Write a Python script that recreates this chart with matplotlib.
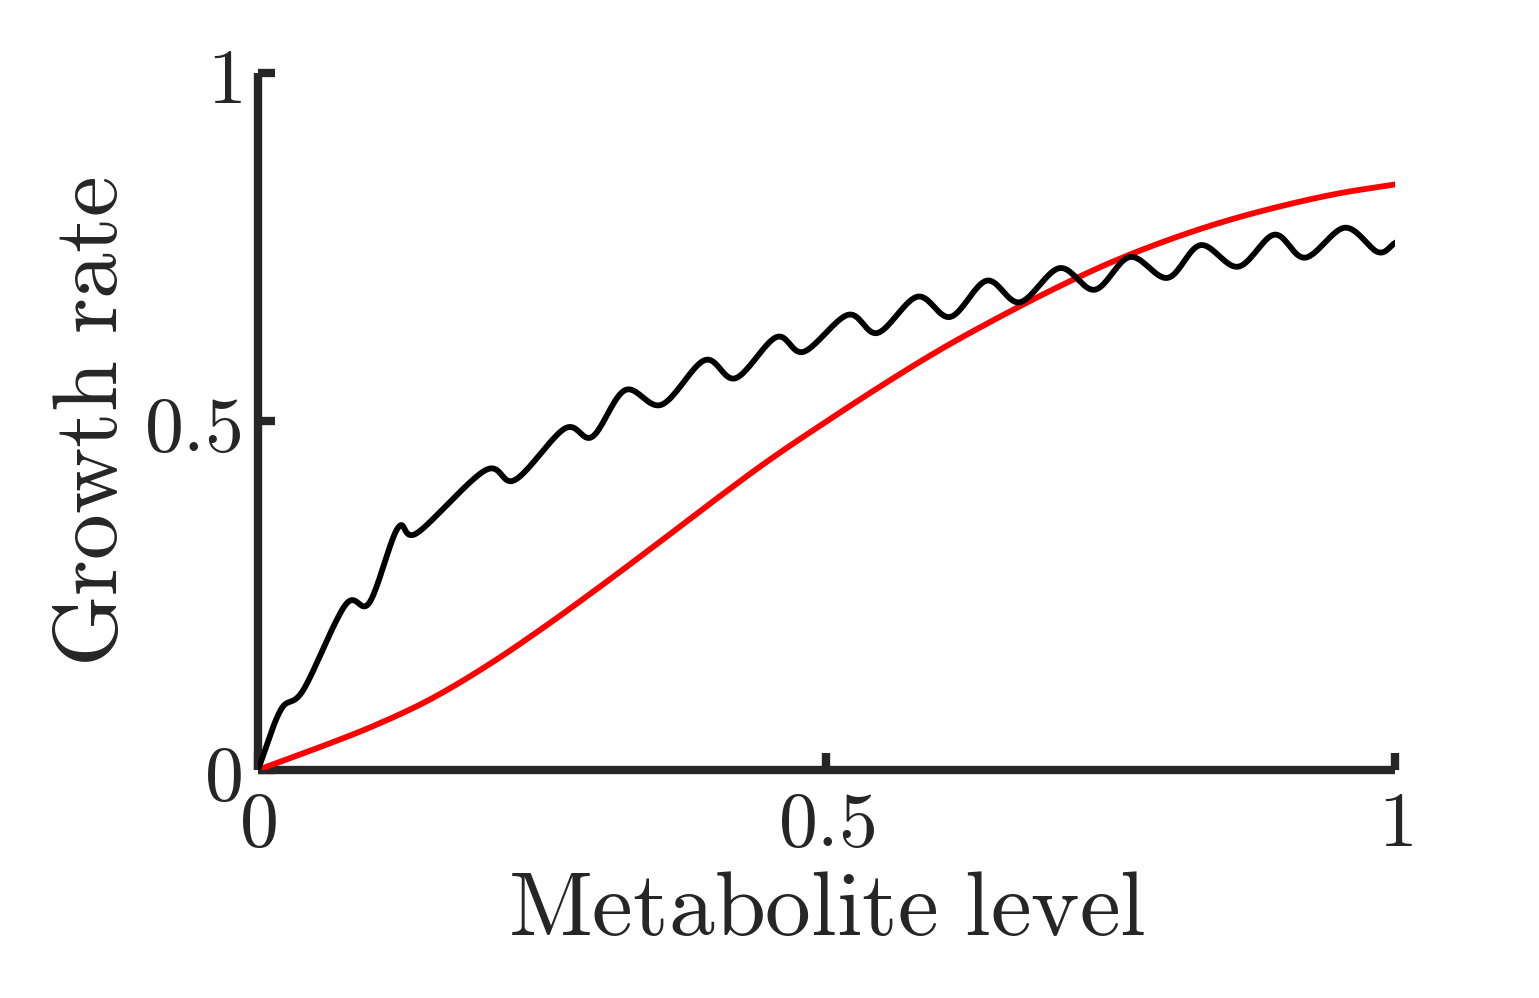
import numpy as np
import matplotlib.pyplot as plt

plt.rcParams['mathtext.fontset'] = 'cm'
plt.rcParams['font.family'] = 'serif'
plt.rcParams['font.serif'] = ['DejaVu Serif']

# red curve
red_x = [0, 0.05, 0.1, 0.15, 0.2, 0.25, 0.3, 0.35, 0.4, 0.45, 0.5,
         0.55, 0.6, 0.65, 0.7, 0.75, 0.8, 0.85, 0.9, 0.95, 1.0]
red_y = [0, 0.03, 0.062, 0.1, 0.148, 0.203, 0.262, 0.323, 0.385, 0.445, 0.5,
         0.553, 0.603, 0.648, 0.69, 0.728, 0.76, 0.787, 0.809, 0.827, 0.84]

# black wiggly curve (peaks / troughs)
blk_x = [0, 0.02, 0.04, 0.077, 0.098, 0.123, 0.14, 0.2, 0.226, 0.27, 0.294,
         0.323, 0.355, 0.393, 0.42, 0.456, 0.48, 0.519, 0.545, 0.58, 0.609,
         0.641, 0.67, 0.705, 0.736, 0.767, 0.8, 0.829, 0.862, 0.894, 0.921,
         0.956, 0.985, 1.0]
blk_y = [0, 0.086, 0.115, 0.237, 0.24, 0.347, 0.34, 0.43, 0.416, 0.49, 0.478,
         0.545, 0.524, 0.588, 0.562, 0.621, 0.6, 0.653, 0.627, 0.679, 0.65,
         0.702, 0.671, 0.72, 0.689, 0.736, 0.706, 0.753, 0.722, 0.768, 0.735,
         0.778, 0.743, 0.756]


def smooth(x, y, n=20):
    # Catmull-Rom spline through the read points, just for drawing
    x = np.asarray(x, float); y = np.asarray(y, float)
    px = np.concatenate([[2*x[0]-x[1]], x, [2*x[-1]-x[-2]]])
    py = np.concatenate([[2*y[0]-y[1]], y, [2*y[-1]-y[-2]]])
    ox, oy = [], []
    t = np.linspace(0, 1, n, endpoint=False)
    for i in range(1, len(px) - 2):
        for a, o in ((px, ox), (py, oy)):
            p0, p1, p2, p3 = a[i-1], a[i], a[i+1], a[i+2]
            o.extend(0.5*(2*p1 + (-p0+p2)*t + (2*p0-5*p1+4*p2-p3)*t**2
                          + (-p0+3*p1-3*p2+p3)*t**3))
    ox.append(x[-1]); oy.append(y[-1])
    return ox, oy


fig = plt.figure(figsize=(15.39, 9.98), dpi=100)
ax = fig.add_axes([0.1676, 0.2285, 0.7388, 0.6984])

ax.plot(*smooth(red_x, red_y), color='#ff0000', lw=4.2, zorder=3)
ax.plot(*smooth(blk_x, blk_y), color='black', lw=4.2, zorder=4)

ax.set_xlim(0, 1)
ax.set_ylim(0, 1)
ax.set_xticks([0, 0.5, 1])
ax.set_yticks([0, 0.5, 1])
ax.set_xticklabels([r'$0$', r'$0.5$', r'$1$'])
ax.set_yticklabels([r'$0$', r'$0.5$', r'$1$'])
ax.tick_params(direction='in', length=12, width=6, colors='#262626',
               labelsize=56, pad=12)
for s in ['top', 'right']:
    ax.spines[s].set_visible(False)
for s in ['left', 'bottom']:
    ax.spines[s].set_linewidth(6)
    ax.spines[s].set_color('#262626')
    ax.spines[s].set_capstyle('butt')

ax.set_xlabel(r'$\mathrm{Metabolite\ level}$', fontsize=66, color='#262626', labelpad=2)
ax.set_ylabel(r'$\mathrm{Growth\ rate}$', fontsize=66, color='#262626', labelpad=6)

fig.savefig('out.png', dpi=100)
